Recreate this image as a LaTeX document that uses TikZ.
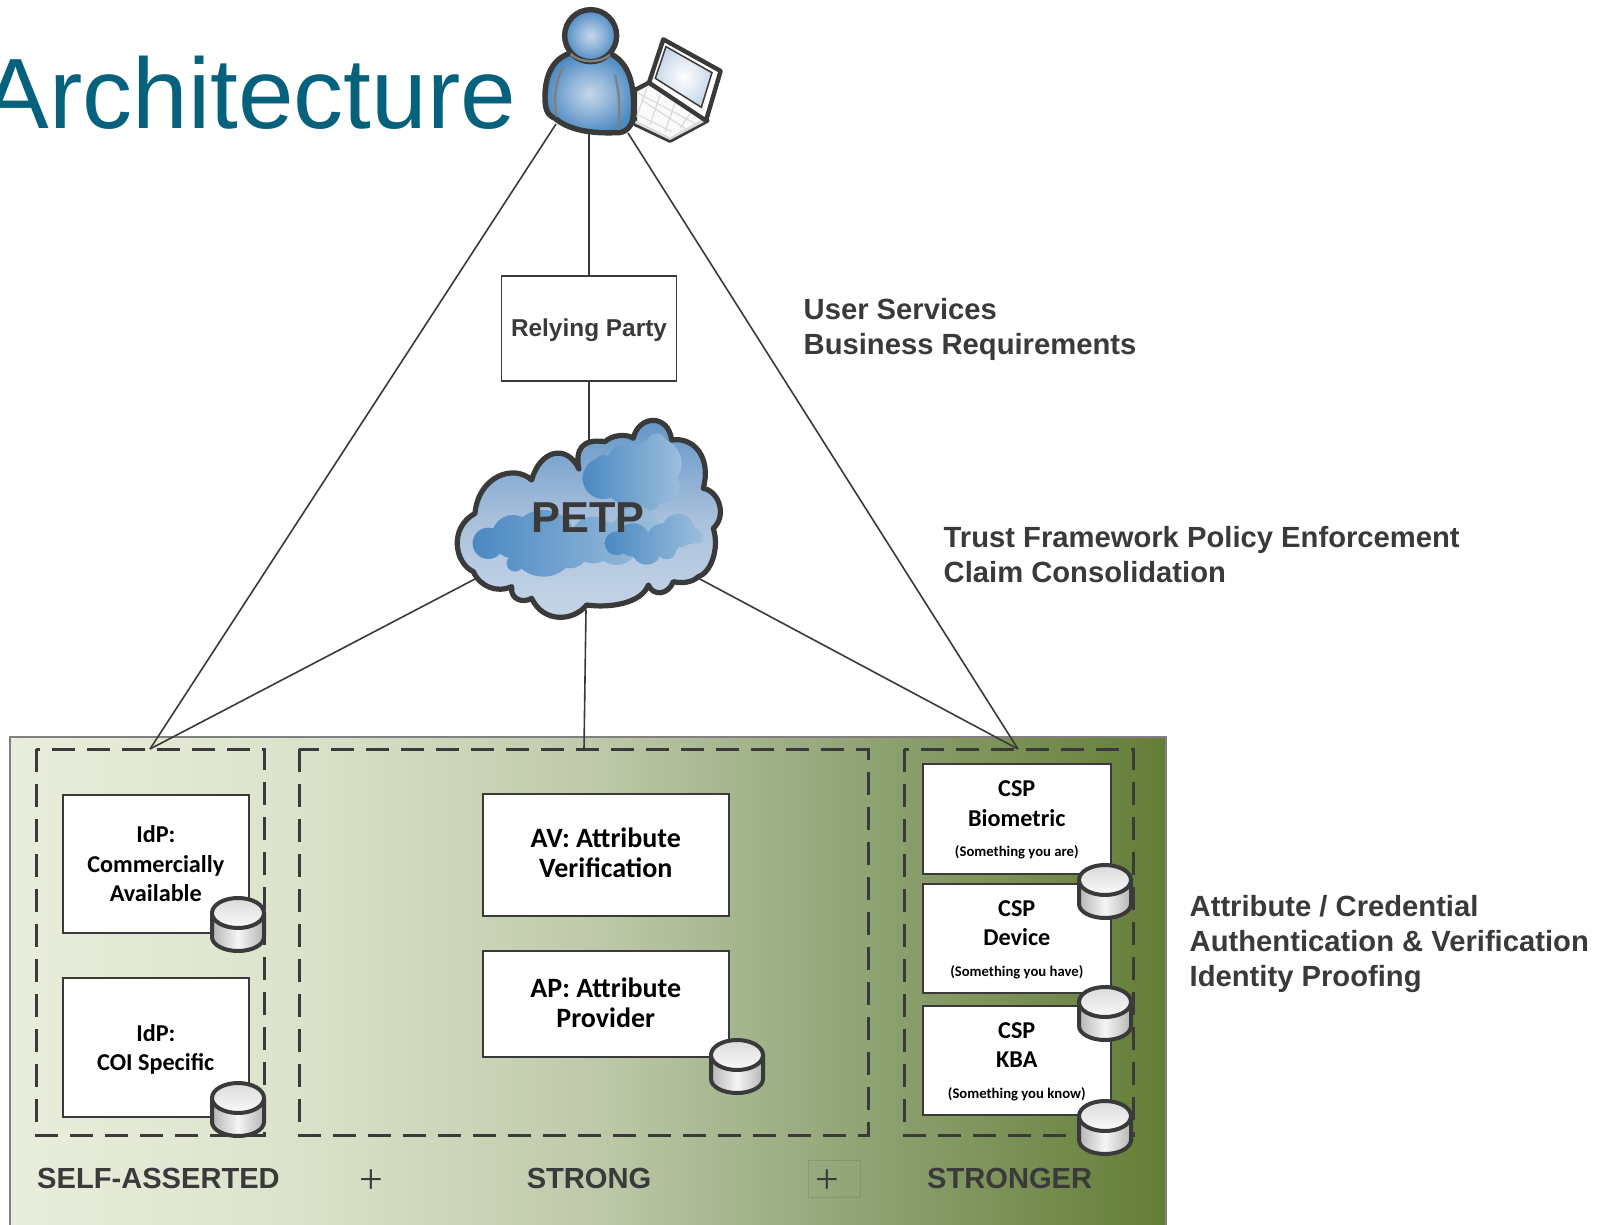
\documentclass[tikz,border=0pt]{standalone}
\usepackage{fontspec}
\setmainfont{Liberation Sans}
\newfontfamily\calfont{Carlito}
\newfontfamily\plusfont{Liberation Serif}
\definecolor{ink}{HTML}{3A3A3A}
\definecolor{titleblue}{HTML}{05617C}
\definecolor{bandA}{HTML}{E9EEDC}
\definecolor{bandB}{HTML}{DCE3CC}
\definecolor{bandC}{HTML}{BFCAAA}
\definecolor{bandD}{HTML}{8FA374}
\definecolor{bandE}{HTML}{647D36}
\definecolor{skyA}{HTML}{C8D7E8}
\definecolor{skyB}{HTML}{A9C0DC}
\definecolor{skyC}{HTML}{5E93C6}
\definecolor{puffA}{HTML}{C6D7E9}
\definecolor{puffB}{HTML}{8FB4D8}
\definecolor{puffC}{HTML}{4D8BC3}
\definecolor{puffD}{HTML}{4A89C2}
\definecolor{puffE}{HTML}{9DBEDC}
\definecolor{canA}{HTML}{B5B5B5}
\definecolor{canB}{HTML}{F5F5F5}
\definecolor{canC}{HTML}{FAFAFA}
\definecolor{canD}{HTML}{DADADA}
\pgfdeclarehorizontalshading{bandshade}{100bp}{
 color(0bp)=(bandA); color(25bp)=(bandA); color(37bp)=(bandB); color(50bp)=(bandC); color(62bp)=(bandD); color(75bp)=(bandE); color(100bp)=(bandE)}
\pgfdeclareverticalshading{cloudbg}{100bp}{
 color(0bp)=(skyA); color(25bp)=(skyA); color(50bp)=(skyB); color(75bp)=(skyC); color(100bp)=(skyC)}
\pgfdeclareradialshading{bluepuff}{\pgfpoint{0bp}{0bp}}{
 color(0bp)=(puffA); color(12bp)=(puffB); color(25bp)=(puffC); color(50bp)=(puffC)}
\pgfdeclarehorizontalshading{puffshade}{100bp}{
 color(0bp)=(puffD); color(25bp)=(puffD); color(75bp)=(puffE); color(100bp)=(puffE)}
\pgfdeclarehorizontalshading{dbside}{100bp}{
 color(0bp)=(canA); color(25bp)=(canA); color(50bp)=(canB); color(75bp)=(canA); color(100bp)=(canA)}
\pgfdeclareverticalshading{dbtop}{100bp}{
 color(0bp)=(canC); color(25bp)=(canC); color(75bp)=(canD); color(100bp)=(canD)}
\tikzset{
 link/.style={draw=ink,line width=1.6pt},
 whitebox/.style={draw=ink,fill=white,line width=1.6pt,inner sep=0pt,anchor=north west},
 boxtext/.style={align=center,font=\calfont\bfseries\fontsize{24.2}{29.5}\selectfont,text=black},
 bigtext/.style={align=center,font=\calfont\bfseries\fontsize{28}{30}\selectfont,text=black},
 zone/.style={draw=ink,line width=3pt,dash pattern=on 23pt off 12pt},
 heading/.style={font=\bfseries\fontsize{29.2}{35}\selectfont,text=ink,anchor=west,align=left},
 banner/.style={font=\bfseries\fontsize{29.1}{35}\selectfont,text=ink},
 plussign/.style={font=\plusfont\fontsize{42}{42}\selectfont,text=ink},
}
\newcommand{\smalltext}[1]{{\fontsize{14.7}{14.7}\selectfont #1}}
\newcommand{\dbcan}[3]{%
 \begin{scope}[shift={(#1,#2)}]
 \shade[shading=dbside] (-26,0) -- (-26,24) arc[start angle=180,end angle=0,x radius=26,y radius=14] -- (26,0) -- cycle;
 \draw[ink,line width=4pt] (-26,0) -- (-26,24) arc[start angle=180,end angle=0,x radius=26,y radius=14] -- (26,0);
 \shade[shading=dbtop] (0,0) ellipse[x radius=26,y radius=15];
 \draw[ink,line width=4pt] (0,0) ellipse[x radius=26,y radius=15];
 \coordinate (#3) at (0,0);
 \end{scope}}
\begin{document}
\begin{tikzpicture}[x=1pt,y=-1pt,every node/.style={inner sep=0pt}]
\useasboundingbox (0,0) rectangle (1610,1225);
\fill[white] (0,0) rectangle (1610,1225);
% title
\node[font=\fontsize{100}{110}\selectfont,text=titleblue,anchor=base east] (title) at (516.5,129) {Architecture};
% panel
\shade[shading=bandshade,draw=gray,line width=1.2pt] (10,737) rectangle (1166,1226);
% anchors
\coordinate (userL) at (556,124);
\coordinate (userC) at (589,134);
\coordinate (userR) at (628,133);
\coordinate (zoneL) at (150,749);
\coordinate (zoneM) at (584,749);
\coordinate (zoneR) at (1018,749);
\coordinate (cloudT) at (589,442);
\coordinate (cloudL) at (475,579);
\coordinate (cloudB) at (586,610);
\coordinate (cloudR) at (698,578);
% connectors
\node[draw=ink,fill=white,line width=1.6pt,minimum width=175pt,minimum height=105pt] (rp) at (589,328.5) {};
\node[font=\bfseries\fontsize{24.4}{30}\selectfont,text=ink] (rpt) at ([yshift=-2pt]rp.center) {Relying Party};
\draw[link] (userL) -- (zoneL);
\draw[link] (userR) -- (zoneR);
\draw[link] (userC) -- (rp.north);
\draw[link] (rp.south) -- (cloudT);
\draw[link] (cloudL) -- (zoneL);
\draw[link] (cloudB) -- (zoneM);
\draw[link] (cloudR) -- (zoneR);
% zones
\draw[zone] (36,749) rectangle (264.5,1135);
\draw[zone] (299,749) rectangle (868,1135);
\draw[zone] (904,749) rectangle (1133,1135);
% cloud
\begin{scope}[shift={(430,400)},x=0.3333pt,y=-0.3333pt]
\def\cloudpath{(447,207) .. controls (435,150) and (455,115) .. (525,125)
 .. controls (545,105) and (590,100) .. (610,115)
 .. controls (625,45) and (715,40) .. (725,120)
 .. controls (790,110) and (845,170) .. (820,265)
 .. controls (870,275) and (890,350) .. (850,385)
 .. controls (870,450) and (840,520) .. (805,530)
 .. controls (785,550) and (750,550) .. (730,545)
 .. controls (715,585) and (670,590) .. (655,555)
 .. controls (635,610) and (540,625) .. (470,615)
 .. controls (430,665) and (340,670) .. (305,595)
 .. controls (280,610) and (240,600) .. (245,560)
 .. controls (200,580) and (150,560) .. (130,515)
 .. controls (75,490) and (55,385) .. (135,340)
 .. controls (145,230) and (250,190) .. (305,240)
 .. controls (330,150) and (410,130) .. (447,207) -- cycle}
\shade[shading=cloudbg] \cloudpath;
\shade[shading=puffshade] (520,235) circle[radius=62] (610,225) circle[radius=95] (680,190) circle[radius=75]
 (680,130) circle[radius=30] (570,165) circle[radius=28] (520,190) circle[radius=25] (700,260) circle[radius=50]
 (610,290) circle[radius=45] (650,290) circle[radius=45] (640,320) circle[radius=22];
\shade[shading=puffshade] (175,430) circle[radius=47] (250,410) circle[radius=65] (340,430) circle[radius=100]
 (255,490) circle[radius=25] (420,450) circle[radius=55] (490,420) circle[radius=70] (560,430) circle[radius=65]
 (620,390) circle[radius=70];
\shade[shading=puffshade] (560,430) circle[radius=36] (610,420) circle[radius=50] (650,450) circle[radius=44]
 (700,420) circle[radius=50] (745,392) circle[radius=50] (780,405) circle[radius=28] (800,410) circle[radius=20] (710,450) circle[radius=28];
\draw[ink,line width=5.2pt,line join=round] \cloudpath;
\end{scope}
\node[font=\bfseries\fontsize{43.3}{50}\selectfont,text=ink] (petp) at (588,517.5) {PETP};
% user
\begin{scope}[shift={(500,0)},x=0.3333pt,y=-0.3333pt]
% laptop
\draw[ink,line width=4.4pt,line join=round,fill=canC] (405,270) -- (447,248) -- (615,355) -- (622,362) -- (510,422) -- (405,372) -- cycle;
\fill[canD] (408,362) -- (510,412) -- (612,355) -- (620,362) -- (510,420) -- (405,370) -- cycle;
\draw[canD,line width=1.2pt] (415,280) -- (585,370) (425,300) -- (555,385) (415,345)-- (515,395)
 (440,265) -- (410,350) (480,285) -- (450,375) (525,310) -- (495,395) (570,340) -- (540,385);
\draw[ink,line width=4.4pt,line join=round,fill=white] (490,118) -- (662,213) -- (618,362) -- (447,248) -- cycle;
\shade[inner color=white,outer color=skyA,draw=ink,line width=1.5pt] (498,140) -- (636,218) -- (604,322) -- (466,235) -- cycle;
% body
\shade[shading=bluepuff] (210,160) .. controls (160,175) and (135,225) .. (135,290) .. controls (135,325) and (140,345) .. (165,355)
 .. controls (200,385) and (260,402) .. (350,398) .. controls (375,400) and (400,380) .. (400,340) .. controls (405,250) and (385,190) .. (335,163) -- cycle;
\draw[ink,line width=5.4pt,line join=round] (210,160) .. controls (160,175) and (135,225) .. (135,290) .. controls (135,325) and (140,345) .. (165,355)
 .. controls (200,385) and (260,402) .. (350,398) .. controls (375,400) and (400,380) .. (400,340) .. controls (405,250) and (385,190) .. (335,163);
\draw[gray,line width=2.4pt] (190,200) .. controls (165,250) and (160,300) .. (170,350);
\draw[gray,line width=2.4pt] (345,225) .. controls (360,280) and (360,340) .. (355,390);
\shade[shading=bluepuff] (272,107) circle[radius=78];
\draw[ink,line width=5.4pt] (272,107) circle[radius=78];
\draw[gray,line width=2.4pt] (212,162) .. controls (240,190) and (300,190) .. (330,165);
\end{scope}
% boxes
\node[whitebox,minimum width=186pt,minimum height=138pt] (idp1) at (62,794) {};
\node[boxtext] (idp1t) at (idp1.center) {IdP:\\Commercially\\Available};
\node[whitebox,minimum width=186pt,minimum height=139pt] (idp2) at (62,977) {};
\node[boxtext] (idp2t) at ([yshift=-2pt]idp2.center) {IdP:\\COI Specific};
\node[whitebox,minimum width=246pt,minimum height=122pt] (av) at (482,793) {};
\node[bigtext] (avt) at ([yshift=2pt]av.center) {AV: Attribute\\Verification};
\node[whitebox,minimum width=246pt,minimum height=106pt] (ap) at (482,950) {};
\node[bigtext] (apt) at ([yshift=1.5pt]ap.center) {AP: Attribute\\Provider};
\node[whitebox,minimum width=188pt,minimum height=110pt] (csp1) at (922,763) {};
\node[boxtext] (csp1t) at ([yshift=-1.5pt]csp1.center) {CSP\\Biometric\\[1pt]\smalltext{(Something you are)}};
\node[whitebox,minimum width=188pt,minimum height=109pt] (csp2) at (922,883) {};
\node[boxtext] (csp2t) at ([yshift=-1.5pt]csp2.center) {CSP\\Device\\[1pt]\smalltext{(Something you have)}};
\node[whitebox,minimum width=188pt,minimum height=109pt] (csp3) at (922,1005) {};
\node[boxtext] (csp3t) at ([yshift=-1.5pt]csp3.center) {CSP\\KBA\\[1pt]\smalltext{(Something you know)}};
% cans
\dbcan{238}{913}{dba}
\dbcan{238}{1098}{dbb}
\dbcan{737}{1055}{dbc}
\dbcan{1105}{880}{dbd}
\dbcan{1105}{1002}{dbe}
\dbcan{1105}{1116}{dbf}
% captions
\node[banner,anchor=base west] (sa) at (37,1188) {SELF-ASSERTED};
\node[banner,anchor=base] (st) at (589,1188) {STRONG};
\node[banner,anchor=base west] (sr) at (927,1188) {STRONGER};
\node[plussign] (p1) at (371.5,1182) {+};
\node[plussign] (p2) at (827,1182) {+};
\draw[black,opacity=.1,line width=.6pt] (808,1160) rectangle (860,1197);
\node[heading] (h1) at (803.5,329.5) {User Services\\Business Requirements};
\node[heading] (h2) at (943.5,555) {Trust Framework Policy Enforcement\\Claim Consolidation};
\node[heading] (h3) at (1189.5,944) {Attribute / Credential\\Authentication \& Verification\\Identity Proofing};
\end{tikzpicture}
\end{document}
